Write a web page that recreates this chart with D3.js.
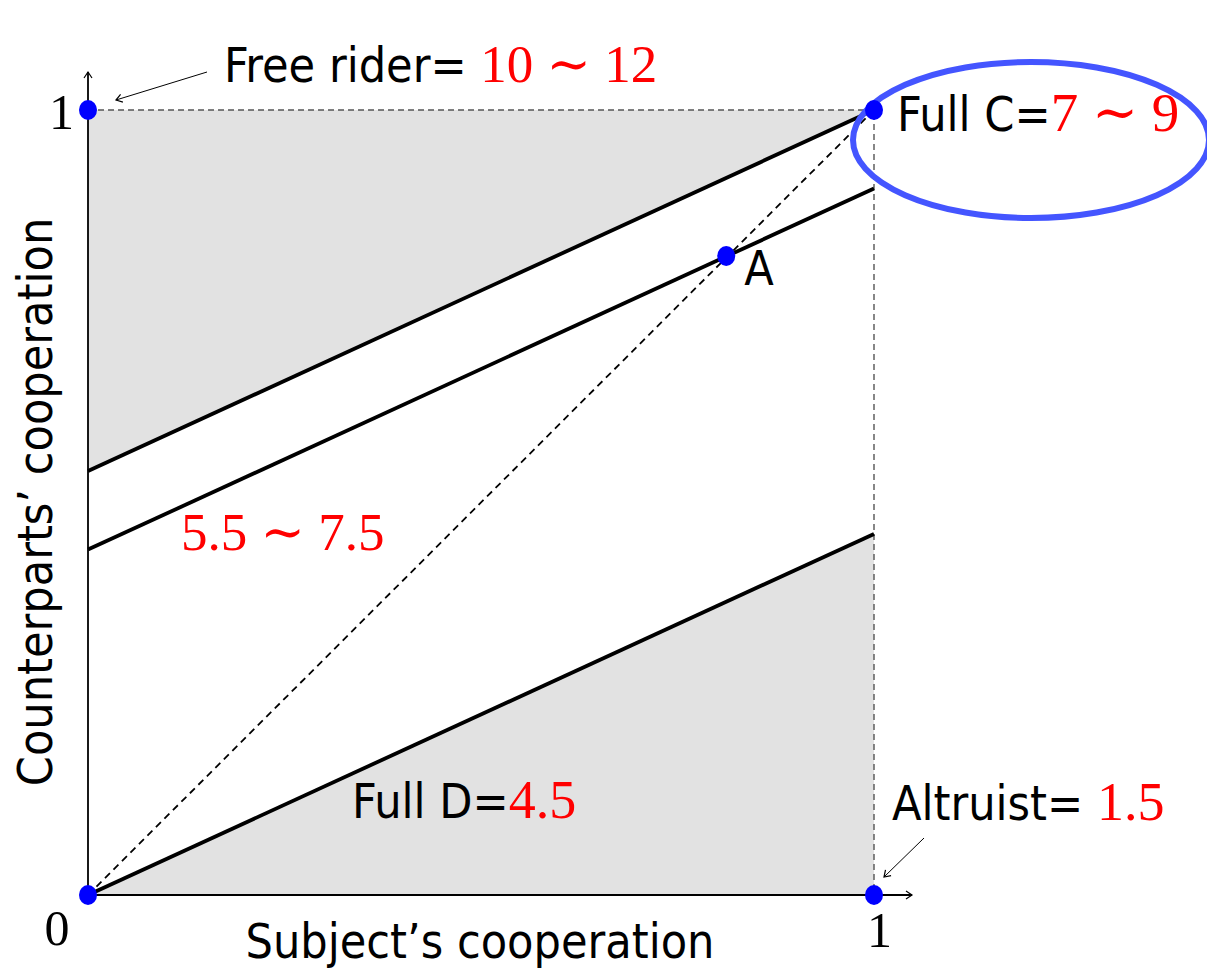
<!DOCTYPE html>
<html>
<head>
<meta charset="utf-8">
<script src="https://cdn.jsdelivr.net/npm/d3@7"></script>
<style>
body { margin: 0; background: #fff; }
.sans { font-family: "Liberation Sans Narrow", "DejaVu Sans Condensed", sans-serif; font-size: 48px; fill: #000; }
.num { font-family: "Liberation Serif", "DejaVu Serif", serif; fill: red; }
.tick text { font-family: "Liberation Serif", "DejaVu Serif", serif; font-size: 50px; fill: #000; }
</style>
</head>
<body>
<div id="chart"></div>
<script>
// corner strategies and point A (subject, counterparts)
var cornerX = [0, 1, 0, 1];
var cornerY = [1, 1, 0, 0];
var pointA = [0.812, 0.814];

// the three boundary lines, [x, y] at both ends
var upperLine = [[0, 0.54], [1, 1]];
var middleLine = [[0, 0.44], [1, 0.90]];
var lowerLine = [[0, 0], [1, 0.46]];

// shaded regions
var freeRiderRegion = [[0, 1], [1, 1], [0, 0.54]];
var altruistRegion = [[0, 0], [1, 0], [1, 0.46]];

var tickValues = [1];
var payoffs = ["10 \u223C 12", "7 \u223C 9", "5.5 \u223C 7.5", "4.5", "1.5"];

// set the dimensions and margins of the graph
var margin = {top: 110, right: 333, bottom: 77, left: 88},
    width = 1207 - margin.left - margin.right,
    height = 972 - margin.top - margin.bottom;

var x = d3.scaleLinear().domain([0, 1]).range([0, width]);
var y = d3.scaleLinear().domain([0, 1]).range([height, 0]);

var svg = d3.select("#chart").append("svg")
    .attr("width", 1207)
    .attr("height", 972);

var defs = svg.append("defs");
defs.append("marker")
    .attr("id", "arrow")
    .attr("viewBox", "-8 -6 10 12")
    .attr("markerWidth", 10)
    .attr("markerHeight", 12)
    .attr("markerUnits", "userSpaceOnUse")
    .attr("orient", "auto")
    .append("path")
    .attr("d", "M-6,-4 L0,0 L-6,4")
    .attr("fill", "none")
    .attr("stroke", "#000")
    .attr("stroke-width", 1.2);

var g = svg.append("g")
    .attr("transform", "translate(" + margin.left + "," + margin.top + ")");

var line = d3.line()
    .x(function(d) { return x(d[0]); })
    .y(function(d) { return y(d[1]); });

// gray regions
[freeRiderRegion, altruistRegion].forEach(function(r) {
    g.append("path")
        .attr("d", line(r) + "Z")
        .attr("fill", "#e2e2e2");
});

// dashed box edges
g.append("path")
    .attr("d", line([[0, 1], [1, 1], [1, 0]]))
    .attr("fill", "none")
    .attr("stroke", "#555")
    .attr("stroke-width", 1.4)
    .attr("stroke-dasharray", "6,4");

// diagonal
g.append("path")
    .attr("d", line([[0, 0], [1, 1]]))
    .attr("fill", "none")
    .attr("stroke", "#000")
    .attr("stroke-width", 1.8)
    .attr("stroke-dasharray", "7,5");

// axes with arrows
g.append("line")
    .attr("x1", x(0)).attr("y1", y(0))
    .attr("x2", x(0)).attr("y2", y(1) - 38)
    .attr("stroke", "#000").attr("stroke-width", 1.8)
    .attr("marker-end", "url(#arrow)");
g.append("line")
    .attr("x1", x(0)).attr("y1", y(0))
    .attr("x2", x(1) + 38).attr("y2", y(0))
    .attr("stroke", "#000").attr("stroke-width", 1.8)
    .attr("marker-end", "url(#arrow)");

var xAxis = g.append("g")
    .attr("transform", "translate(0," + height + ")")
    .call(d3.axisBottom(x).tickValues(tickValues).tickSize(0).tickPadding(16).tickFormat(d3.format("d")));
xAxis.select(".domain").remove();
xAxis.selectAll(".tick text").attr("dx", 5);

var yAxis = g.append("g")
    .call(d3.axisLeft(y).tickValues(tickValues).tickSize(0).tickPadding(14).tickFormat(d3.format("d")));
yAxis.select(".domain").remove();
yAxis.selectAll(".tick text").attr("dy", "0.36em");

g.append("text")
    .attr("x", x(0) - 31)
    .attr("y", y(0) + 50)
    .attr("text-anchor", "middle")
    .style("font-family", "'Liberation Serif', 'DejaVu Serif', serif")
    .style("font-size", "50px")
    .text("0");

// boundary lines
[upperLine, middleLine, lowerLine].forEach(function(l) {
    g.append("path")
        .attr("d", line(l))
        .attr("fill", "none")
        .attr("stroke", "#000")
        .attr("stroke-width", 3.8);
});

// ellipse round full cooperation
g.append("ellipse")
    .attr("cx", x(1) + 157)
    .attr("cy", y(1) + 30)
    .attr("rx", 178)
    .attr("ry", 78)
    .attr("fill", "none")
    .attr("stroke", "#4455ff")
    .attr("stroke-width", 6);

// points
g.selectAll(".corner")
    .data(cornerX)
    .enter().append("ellipse")
    .attr("class", "corner")
    .attr("cx", function(d) { return x(d); })
    .attr("cy", function(d, i) { return y(cornerY[i]); })
    .attr("rx", 9)
    .attr("ry", 10)
    .attr("fill", "#0000ff");

g.append("ellipse")
    .attr("cx", x(pointA[0]))
    .attr("cy", y(pointA[1]))
    .attr("rx", 9)
    .attr("ry", 10)
    .attr("fill", "#0000ff");

// labels
function label(px, py, a, b, numSize) {
    var t = svg.append("text")
        .attr("class", "sans")
        .attr("x", px)
        .attr("y", py);
    if (a) t.append("tspan").text(a);
    if (b) t.append("tspan").attr("class", "num").style("font-size", numSize + "px").text(b);
    return t;
}

label(224, 82, "Free rider= ", payoffs[0], 53);
label(897, 131, "Full C=", payoffs[1], 55);
label(181, 550, null, payoffs[2], 53);
label(352, 818, "Full D=", payoffs[3], 54);
label(892, 820, "Altruist=  ", payoffs[4], 54);

svg.append("text")
    .attr("class", "sans")
    .attr("x", margin.left + x(pointA[0]) + 18)
    .attr("y", margin.top + y(pointA[1]) + 29)
    .text("A");

// small pointer arrows
svg.append("line")
    .attr("x1", 207).attr("y1", 72)
    .attr("x2", 116).attr("y2", 100)
    .attr("stroke", "#000").attr("stroke-width", 1)
    .attr("marker-end", "url(#arrow)");
svg.append("line")
    .attr("x1", 924).attr("y1", 838)
    .attr("x2", 884).attr("y2", 877)
    .attr("stroke", "#000").attr("stroke-width", 1)
    .attr("marker-end", "url(#arrow)");

// axis titles
svg.append("text")
    .attr("class", "sans")
    .attr("x", 480)
    .attr("y", 958)
    .attr("text-anchor", "middle")
    .text("Subject\u2019s cooperation");

svg.append("text")
    .attr("class", "sans")
    .attr("transform", "translate(52,502) rotate(-90)")
    .attr("text-anchor", "middle")
    .text("Counterparts\u2019 cooperation");
</script>
</body>
</html>
